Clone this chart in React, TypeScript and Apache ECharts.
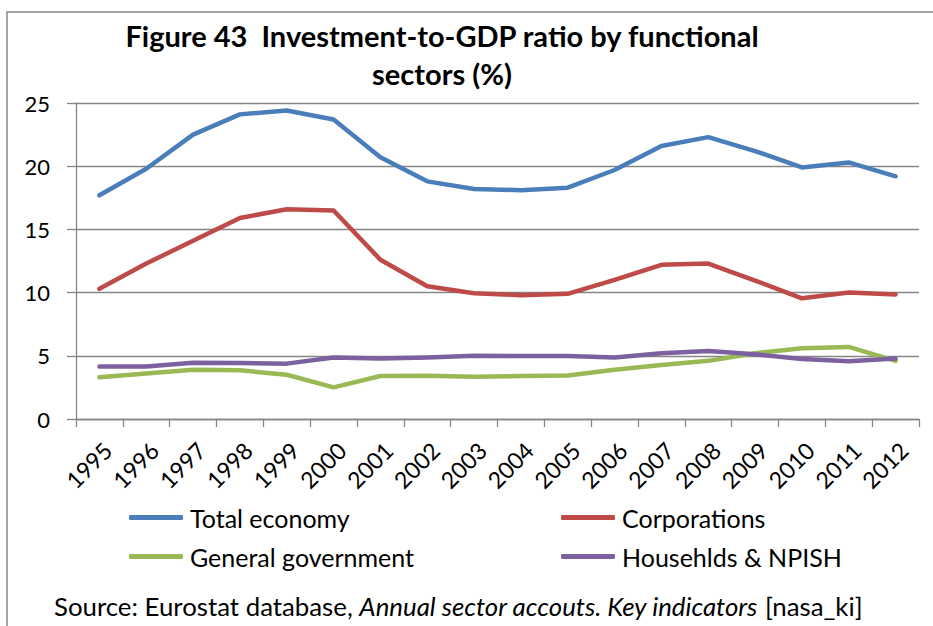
import React, { useEffect, useRef } from "react";
import * as echarts from "echarts";

const years = ["1995", "1996", "1997", "1998", "1999", "2000", "2001", "2002", "2003", "2004", "2005", "2006", "2007", "2008", "2009", "2010", "2011", "2012"];
const totalEconomy = [17.7, 19.8, 22.5, 24.1, 24.4, 23.7, 20.7, 18.8, 18.2, 18.1, 18.3, 19.7, 21.6, 22.3, 21.2, 19.9, 20.3, 19.2];
const corporations = [10.3, 12.3, 14.1, 15.9, 16.6, 16.5, 12.6, 10.5, 9.95, 9.8, 9.9, 11.0, 12.2, 12.3, 10.95, 9.55, 10.0, 9.85];
const generalGovernment = [3.3, 3.6, 3.9, 3.85, 3.5, 2.5, 3.4, 3.43, 3.35, 3.4, 3.45, 3.9, 4.27, 4.6, 5.2, 5.6, 5.7, 4.6];
const households = [4.15, 4.15, 4.45, 4.43, 4.38, 4.86, 4.78, 4.86, 5.0, 4.99, 4.99, 4.86, 5.2, 5.38, 5.12, 4.75, 4.57, 4.78];
const seriesNames = ["Total economy", "Corporations", "General government", "Househlds & NPISH"];
const seriesColors = ["#4A7EBB", "#BE4B48", "#98B954", "#7D60A0"];
const yMin = 0;
const yMax = 25;
const yInterval = 5;

const titleText = "Figure 43  Investment-to-GDP ratio by functional\nsectors (%)";
const sourceText = "Source: Eurostat database, {i|Annual sector accouts. Key indicators} [nasa_ki]";

const FONT = "Lato, 'Noto Sans', sans-serif";
const GRAY = "#868686";

export default function App() {
  const ref = useRef<HTMLDivElement>(null);
  useEffect(() => {
    if (!ref.current) return;
    const chart = echarts.init(ref.current, null, { renderer: "svg" });
    const data = [totalEconomy, corporations, generalGovernment, households];
    const legendPos = [
      { left: 129, top: 505 },
      { left: 561, top: 505 },
      { left: 129, top: 544 },
      { left: 561, top: 544 },
    ];
    chart.setOption({
      animation: false,
      backgroundColor: "#fff",
      textStyle: { fontFamily: FONT },
      title: {
        text: titleText,
        left: 437,
        top: 11,
        textAlign: "center",
        textStyle: { fontFamily: FONT, fontSize: 29, fontWeight: "bold", color: "#000", lineHeight: 38 },
      },
      grid: { left: 76, right: 14, top: 103, bottom: 207, containLabel: false },
      xAxis: {
        type: "category",
        data: years,
        boundaryGap: true,
        axisLine: { show: true, lineStyle: { color: GRAY, width: 1.3 } },
        axisTick: { show: true, interval: 0, length: 8, lineStyle: { color: GRAY, width: 1.3 } },
        axisLabel: {
          interval: 0,
          rotate: 45,
          align: "right",
          verticalAlign: "top",
          margin: 19,
          hideOverlap: false,
          fontFamily: FONT,
          fontSize: 23,
          color: "#000",
        },
      },
      yAxis: {
        type: "value",
        min: yMin,
        max: yMax,
        interval: yInterval,
        axisLine: { show: true, lineStyle: { color: GRAY, width: 1.3 } },
        axisTick: { show: true, length: 9, lineStyle: { color: GRAY, width: 1.3 } },
        splitLine: { show: true, lineStyle: { color: GRAY, width: 1.3 } },
        axisLabel: { margin: 26, fontFamily: FONT, fontSize: 22, color: "#000" },
      },
      legend: seriesNames.map((name, i) => ({
        data: [name],
        left: legendPos[i].left,
        top: legendPos[i].top,
        icon: "roundRect",
        itemWidth: 54,
        itemHeight: 5,
        selectedMode: false,
        padding: 0,
        textStyle: { fontFamily: FONT, fontSize: 25, color: "#000", padding: [0, 0, 0, 2] },
      })),
      graphic: [
        {
          type: "rect",
          shape: { x: 7, y: 12, width: 1000, height: 1000 },
          style: { fill: "none", stroke: GRAY, lineWidth: 1.5 },
          silent: true,
        },
        {
          type: "text",
          x: 54,
          y: 606,
          style: {
            text: sourceText,
            fontFamily: FONT,
            fontSize: 25.8,
            fill: "#000",
            verticalAlign: "middle",
            rich: { i: { fontStyle: "italic", fontFamily: FONT, fontSize: 25.8, fill: "#000" } },
          },
        },
      ],
      series: seriesNames.map((name, i) => ({
        name,
        type: "line",
        data: data[i],
        showSymbol: false,
        symbol: "none",
        color: seriesColors[i],
        lineStyle: { color: seriesColors[i], width: 4.5, cap: "round", join: "round" },
        z: 2 + i,
      })),
    });
    return () => chart.dispose();
  }, []);
  return <div ref={ref} style={{ position: "fixed", left: 0, top: 0, width: 933, height: 626 }} />;
}
